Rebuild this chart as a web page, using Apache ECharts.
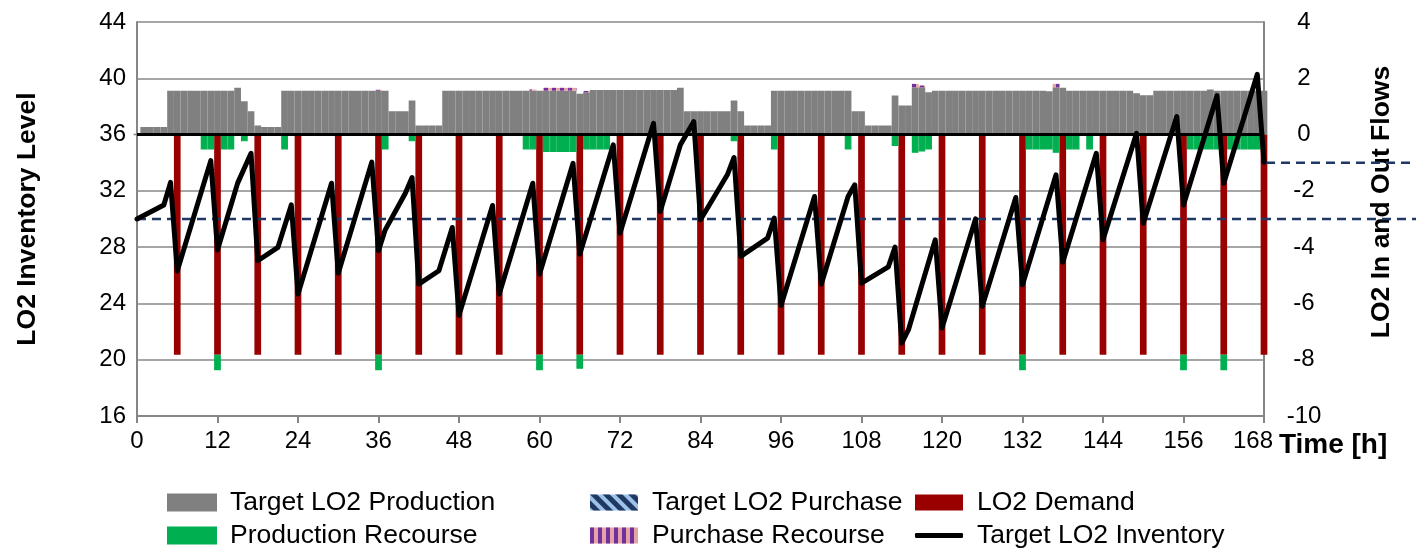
<!DOCTYPE html>
<html><head><meta charset="utf-8">
<script src="https://cdn.jsdelivr.net/npm/echarts@6/dist/echarts.min.js"></script>
<style>html,body{margin:0;padding:0;background:#fff}#c{width:1416px;height:550px}</style>
</head><body><div id="c"></div>
<script>
// ---------------- data ----------------
// Target LO2 production, one value per hour 0..168 (right axis)
const production = [
  0, .27, .27, .27, .27, 1.56, 1.56, 1.56, 1.56, 1.56, 1.56, 1.56,
  1.56, 1.56, 1.56, 1.66, 1.18, .83, .32, .27, .27, .27, 1.56, 1.56,
  1.56, 1.56, 1.56, 1.56, 1.56, 1.56, 1.56, 1.56, 1.56, 1.56, 1.56, 1.56,
  1.56, 1.56, .83, .83, .83, 1.21, .32, .32, .32, .32, 1.56, 1.56,
  1.56, 1.56, 1.56, 1.56, 1.56, 1.56, 1.56, 1.56, 1.56, 1.56, 1.56, 1.56,
  1.56, 1.56, 1.56, 1.56, 1.56, 1.56, 1.45, 1.5, 1.58, 1.58, 1.58, 1.58,
  1.58, 1.58, 1.58, 1.58, 1.58, 1.58, 1.58, 1.58, 1.58, 1.66, .83, .83,
  .83, .83, .83, .83, .83, 1.21, .83, .32, .32, .32, .32, 1.56,
  1.56, 1.56, 1.56, 1.56, 1.56, 1.56, 1.56, 1.56, 1.56, 1.56, 1.56, .83,
  .83, .32, .32, .32, .32, 1.39, 1.03, 1.03, 1.68, 1.68, 1.5, 1.56,
  1.56, 1.56, 1.56, 1.56, 1.56, 1.56, 1.56, 1.56, 1.56, 1.56, 1.56, 1.56,
  1.56, 1.56, 1.56, 1.56, 1.54, 1.68, 1.66, 1.56, 1.56, 1.56, 1.56, 1.56,
  1.56, 1.56, 1.56, 1.56, 1.56, 1.47, 1.4, 1.4, 1.56, 1.56, 1.56, 1.56,
  1.56, 1.56, 1.56, 1.56, 1.6, 1.56, 1.56, 1.56, 1.56, 1.56, 1.56, 1.56,
  1.56
];
// Target LO2 purchase [hour, value]: none in this period
const purchase = [];
// Purchase recourse [hour, value]
const purchaseRecourse = [[36, .03], [59, .04], [61, .1], [62, .1], [63, .1], [64, .1], [65, .1], [67, .05], [116, .12], [117, .06], [137, .12]];
// Production recourse [hour, value]
const productionRecourse = [
  [10, -.53], [11, -.53], [12, -.55], [13, -.53], [14, -.53], [16, -.24], [22, -.53], [36, -.55], [37, -.53], [41, -.24],
  [58, -.53], [59, -.53], [60, -.55], [61, -.62], [62, -.62], [63, -.62], [64, -.62], [65, -.62], [66, -.5],
  [67, -.53], [68, -.53], [69, -.53], [70, -.53], [89, -.24], [95, -.53], [106, -.53], [113, -.41],
  [116, -.65], [117, -.6], [118, -.53], [132, -.55], [133, -.53], [134, -.53], [135, -.53], [136, -.53],
  [137, -.65], [139, -.53], [140, -.53], [142, -.53], [156, -.55], [157, -.53], [158, -.53], [159, -.53],
  [160, -.53], [161, -.53], [162, -.55], [163, -.53], [164, -.53], [165, -.53], [166, -.53], [167, -.53]
];
// LO2 demand [hour, value]
const demand = [
  [6, -7.82], [12, -7.82], [18, -7.82], [24, -7.82], [30, -7.82], [36, -7.82], [42, -7.82], [48, -7.82],
  [54, -7.82], [60, -7.82], [66, -7.82], [72, -7.82], [78, -7.82], [84, -7.82], [90, -7.82], [96, -7.82],
  [102, -7.82], [108, -7.82], [114, -7.82], [120, -7.82], [126, -7.82], [132, -7.82], [138, -7.82],
  [144, -7.82], [150, -7.82], [156, -7.82], [162, -7.82], [168, -7.82]
];
// Target LO2 inventory [hour, level] (left axis)
const inventory = [
  [0, 30.0], [4, 31.0], [5, 32.6], [6, 26.3], [11, 34.15], [12, 27.8], [15, 32.55], [17, 34.67], [18, 27.03],
  [21, 27.98], [23, 31.0], [24, 24.66], [29, 32.54], [30, 26.15], [35, 34.04], [36, 27.74], [37, 29.23],
  [40, 31.83], [41, 32.95], [42, 25.37], [45, 26.32], [47, 29.4], [48, 23.15], [53, 30.96], [54, 24.66],
  [59, 32.54], [60, 26.08], [65, 33.96], [66, 27.5], [71, 35.27], [72, 28.99], [77, 36.8], [78, 30.53],
  [81, 35.27], [83, 36.92], [84, 29.94], [88, 33.14], [89, 34.37], [90, 27.34], [94, 28.64], [95, 30.06],
  [96, 23.86], [101, 31.6], [102, 25.37], [106, 31.6], [107, 32.43], [108, 25.44], [112, 26.6], [113, 28.0],
  [114, 21.18], [115, 22.13], [119, 28.52], [120, 22.25], [125, 30.01], [126, 23.79], [131, 31.53],
  [132, 25.33], [137, 33.14], [138, 26.93], [143, 34.67], [144, 28.52], [149, 36.09], [150, 29.7],
  [155, 37.28], [156, 31.0], [161, 38.77], [162, 32.54], [167, 40.28], [168, 34.04]
];
// reference levels (dashed lines)
const inventoryRefLevel = 30;   // left axis
const flowRefLevel = -1;        // right axis
// axis ticks
const xTickLabels = [0, 12, 24, 36, 48, 60, 72, 84, 96, 108, 120, 132, 144, 156, 168];
const leftTicks = { min: 16, max: 44, interval: 4 };
const rightTicks = { min: -10, max: 4, interval: 2 };
const names = {
  prod: 'Target LO2 Production', purch: 'Target LO2 Purchase', dem: 'LO2 Demand',
  prodRec: 'Production Recourse', purchRec: 'Purchase Recourse', inv: 'Target LO2 Inventory',
  left: 'LO2 Inventory Level', right: 'LO2 In and Out Flows', x: 'Time [h]'
};

// ---------------- build ----------------
const hours = production.map((_, h) => String(h));   // hourly categories 0..168
function hourly(pairs) {
  const m = new Map(pairs);
  return hours.map((_, h) => (m.has(h) ? m.get(h) : null));
}
const FONT = "'Liberation Sans', Arial, sans-serif";
const axisGray = '#868686';
const TICK_FS = 24;
const LEG_FS = 26.5;
const lastTick = xTickLabels[xTickLabels.length - 1];

const chart = echarts.init(document.getElementById('c'), null, { renderer: 'canvas' });
const txt = { fontFamily: FONT, color: '#000', fontSize: TICK_FS };
const title = { fontFamily: FONT, fontWeight: 'bold', fontSize: LEG_FS, color: '#000' };

const legendPos = [
  [names.prod, 167, 489], [names.prodRec, 167, 522],
  [names.purch, 590, 489], [names.purchRec, 590, 522],
  [names.dem, 915, 489], [names.inv, 915, 522]
];

const option = {
  animation: false,
  grid: { left: 137, right: 152, top: 22, bottom: 134, containLabel: false },
  xAxis: {
    type: 'category', data: hours, boundaryGap: false,
    name: names.x, nameLocation: 'end', nameGap: 14,
    nameTextStyle: Object.assign({}, title, { fontSize: 28, verticalAlign: 'top', padding: [15, 0, 0, 0] }),
    axisLine: { show: true, onZero: false, lineStyle: { color: axisGray, width: 2 } },
    axisTick: { show: true, interval: (i) => xTickLabels.includes(i), length: 7, lineStyle: { color: axisGray, width: 2 } },
    axisLabel: Object.assign({
      margin: 13, interval: (i) => xTickLabels.includes(i),
      formatter: (v) => (Number(v) === lastTick ? '{last|' + v + '}' : v),
      rich: { last: { fontFamily: FONT, fontSize: TICK_FS, color: '#000', padding: [0, 22, 0, 0] } }
    }, txt),
    splitLine: { show: false }
  },
  yAxis: [{
    type: 'value', position: 'left', min: leftTicks.min, max: leftTicks.max, interval: leftTicks.interval,
    name: names.left, nameLocation: 'middle', nameGap: 96, nameRotate: 90,
    nameTextStyle: title,
    axisLine: { show: true, lineStyle: { color: axisGray, width: 2 } },
    axisTick: { show: false },
    axisLabel: Object.assign({ margin: 11 }, txt),
    splitLine: { show: true, lineStyle: { color: '#a6a6a6', width: 2 } }
  }, {
    type: 'value', position: 'right', min: rightTicks.min, max: rightTicks.max, interval: rightTicks.interval,
    name: names.right, nameLocation: 'middle', nameGap: 104, nameRotate: 90,
    nameTextStyle: Object.assign({}, title, { padding: [0, 0, 0, 34] }),
    axisLine: { show: true, lineStyle: { color: axisGray, width: 2 } },
    axisTick: { show: false },
    axisLabel: Object.assign({ margin: 40, align: 'center' }, txt),
    splitLine: { show: false }
  }],
  legend: legendPos.map(([n, left, top]) => {
    const l = {
      data: [n], left, top, itemWidth: 48, itemHeight: 16, itemGap: 0, padding: 0,
      icon: 'rect', selectedMode: false,
      textStyle: { fontFamily: FONT, fontSize: LEG_FS, color: '#000', padding: [0, 0, 0, 9] }
    };
    if (n === names.inv) {
      l.icon = 'roundRect';
      l.itemHeight = 5;
      l.itemStyle = { color: '#000' };
    }
    return l;
  }),
  series: [
    { name: names.prod, type: 'bar', stack: 'flow', yAxisIndex: 1, barCategoryGap: '0%', data: production,
      itemStyle: { color: '#808080', borderColor: '#808080', borderWidth: 1.5 } },
    { name: names.purchRec, type: 'bar', stack: 'flow', yAxisIndex: 1, data: hourly(purchaseRecourse),
      itemStyle: { color: '#e6a3a3', decal: { symbol: 'rect', symbolSize: 1, dashArrayX: [[4, 4]], dashArrayY: [10, 0], color: '#7030a0', rotation: 0 } } },
    { name: names.purch, type: 'bar', stack: 'flow', yAxisIndex: 1, data: hourly(purchase),
      itemStyle: { color: '#9dc3e6', decal: { symbol: 'rect', symbolSize: 1, dashArrayX: [[5, 4]], dashArrayY: [10, 0], color: '#1f3864', rotation: -Math.PI / 4 } } },
    { name: names.dem, type: 'bar', stack: 'flow', yAxisIndex: 1, data: hourly(demand),
      itemStyle: { color: '#990000' },
      markLine: { silent: true, symbol: 'none', label: { show: false }, z: 4,
        lineStyle: { color: '#000', width: 3, type: 'solid' }, data: [{ yAxis: 0 }] } },
    { name: names.prodRec, type: 'bar', stack: 'flow', yAxisIndex: 1, data: hourly(productionRecourse),
      itemStyle: { color: '#00b050', borderColor: '#00b050', borderWidth: 1.2 } },
    { name: names.inv, type: 'line', yAxisIndex: 0, data: inventory, symbol: 'none', z: 6,
      lineStyle: { color: '#000', width: 5, join: 'round', cap: 'round' }, itemStyle: { color: '#000' } }
  ]
};
chart.setOption(option);

// dashed reference lines (extend past the plot area to the page edge)
const W = chart.getWidth();
const x0 = chart.convertToPixel({ xAxisIndex: 0 }, 0);
const x1 = chart.convertToPixel({ xAxisIndex: 0 }, hours.length - 1);
const yInv = chart.convertToPixel({ yAxisIndex: 0 }, inventoryRefLevel);
const yFlow = chart.convertToPixel({ yAxisIndex: 1 }, flowRefLevel);
const dash = { stroke: '#1f3864', lineWidth: 2.5, lineDash: [9, 6] };
chart.setOption({
  graphic: [
    { type: 'line', z: 5, silent: true, shape: { x1: x0, y1: yInv, x2: W, y2: yInv }, style: dash },
    { type: 'line', z: 5, silent: true, shape: { x1: x1 + 2, y1: yFlow, x2: W, y2: yFlow }, style: dash }
  ]
});
</script>
</body></html>
